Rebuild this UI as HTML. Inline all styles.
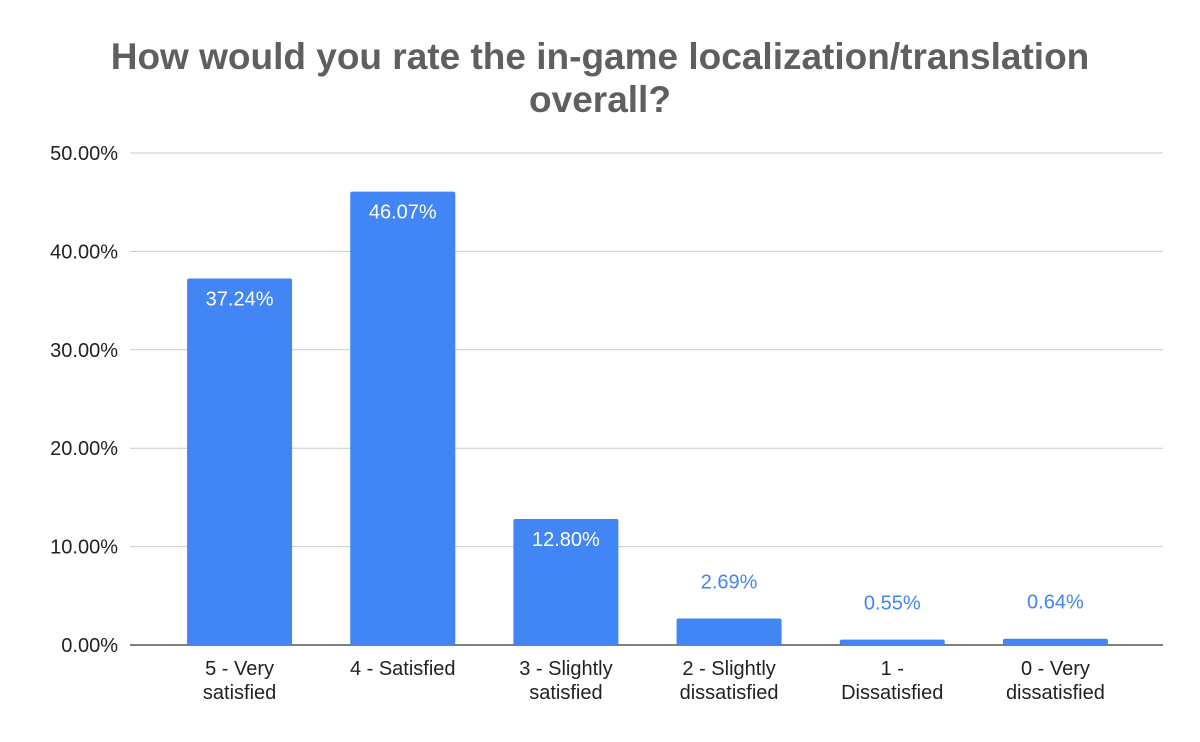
<!DOCTYPE html>
<html><head><meta charset="utf-8"><style>
body{margin:0;background:#fff;}
svg{display:block;font-family:"Liberation Sans",Arial,sans-serif;}
</style></head><body>
<svg id="chart" width="1200" height="742" viewBox="0 0 1200 742">
<rect width="1200" height="742" fill="#fff"/>
<text x="600" y="69" text-anchor="middle" font-size="37" font-weight="bold" fill="#5f5f5f">How would you rate the in-game localization/translation</text>
<text x="600" y="112" text-anchor="middle" font-size="37" font-weight="bold" fill="#5f5f5f">overall?</text>
<g id="grid"></g><g id="bars"></g><g id="labels"></g>
</svg>
<script>
const categories=[["5 - Very","satisfied"],["4 - Satisfied"],["3 - Slightly","satisfied"],["2 - Slightly","dissatisfied"],["1 -","Dissatisfied"],["0 - Very","dissatisfied"]];
const values=[37.24,46.07,12.80,2.69,0.55,0.64];
const ticks=[0,10,20,30,40,50];
const NS="http://www.w3.org/2000/svg";
const y0=645,y50=153,plotL=158,plotR=1137,gridL=130,gridR=1163;
const y=v=>y0-(v/50)*(y0-y50);
const step=(plotR-plotL)/categories.length;
const xc=i=>plotL+step*(i+0.5);
const bw=105;
function mk(tag,attrs,parent){const e=document.createElementNS(NS,tag);for(const k in attrs)e.setAttribute(k,attrs[k]);document.getElementById(parent).appendChild(e);return e;}
ticks.forEach(t=>{
 const l=mk('line',{x1:gridL,x2:gridR,y1:y(t),y2:y(t),stroke:t===0?'#333':'#ccc','stroke-width':t===0?1.3:1},'grid');
 
 
 const tx=mk('text',{x:118,y:y(t)+7,'text-anchor':'end','font-size':20,fill:'#222'},'grid');
 tx.textContent=t.toFixed(2)+'%';
 
 
});
values.forEach((v,i)=>{
 const top=y(v);
 const r=mk('rect',{x:xc(i)-bw/2,y:top,width:bw,height:y0-top,fill:'#4285f4',rx:2},'bars');
 
 
 const inside=(y0-top)>40;
 const t=mk('text',{x:xc(i),y:inside?top+27:top-30,'text-anchor':'middle','font-size':20,fill:inside?'#fff':'#4285f4'},'labels');
 t.textContent=v.toFixed(2)+'%';
 
 
 categories[i].forEach((line,j)=>{
  const c=mk('text',{x:xc(i),y:675+j*24,'text-anchor':'middle','font-size':20,fill:'#222'},'labels');
  c.textContent=line;
  
  
 });
});
</script>
</body></html>
